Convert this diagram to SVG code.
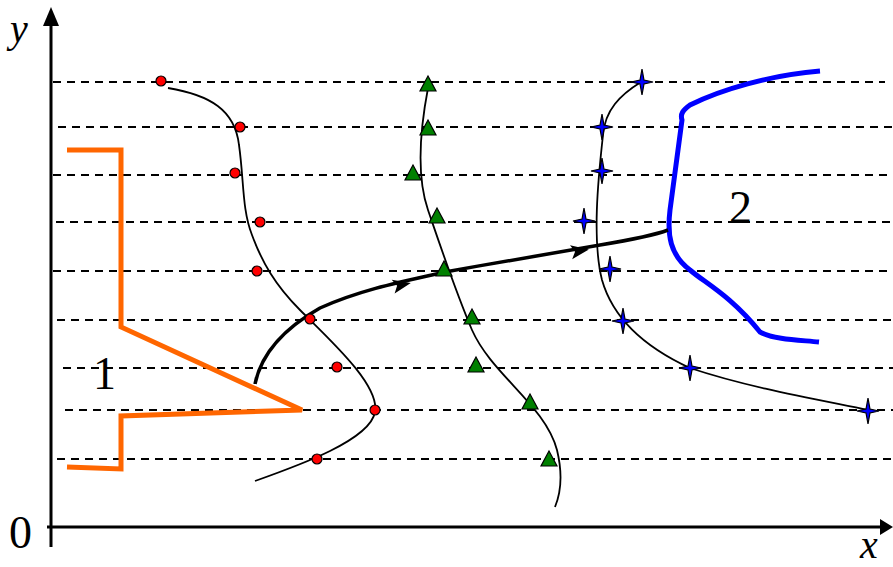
<svg xmlns="http://www.w3.org/2000/svg" width="893" height="567" viewBox="0 0 893 567">
<style>
.dash{stroke:#000;stroke-width:2;stroke-dasharray:8 6;fill:none}
.axis{stroke:#000;stroke-width:3;fill:none}
.thin{stroke:#000;stroke-width:1.8;fill:none}
.lbl{font-family:"Liberation Serif",serif;fill:#000}
</style>
<defs>
<circle id="dot" r="5" fill="#ff0000" stroke="#000" stroke-width="1.2"/>
<polygon id="tri" points="0,-9 8,6 -8,6" fill="#008000" stroke="#000" stroke-width="1.2"/>
<polygon id="star" points="0,-13 2,-2 11,0 2,2 0,13 -2,2 -11,0 -2,-2" fill="#0000ff" stroke="#000" stroke-width="1.2"/>
<polygon id="ah" points="10,0 -8,-7 -4,0 -8,7" fill="#000"/>
</defs>
<rect width="893" height="567" fill="#fff"/>
<g id="gridlines">
<line class="dash" x1="53" y1="82" x2="885" y2="82"/>
<line class="dash" x1="58" y1="127" x2="893" y2="127"/>
<line class="dash" x1="53" y1="175" x2="893" y2="175"/>
<line class="dash" x1="56" y1="222" x2="893" y2="222"/>
<line class="dash" x1="53" y1="271" x2="893" y2="271"/>
<line class="dash" x1="57" y1="320" x2="893" y2="320"/>
<line class="dash" x1="63" y1="368" x2="893" y2="368"/>
<line class="dash" x1="65" y1="410" x2="893" y2="410"/>
<line class="dash" x1="57" y1="459" x2="893" y2="459"/>
</g>
<g id="axes">
<line class="axis" x1="51" y1="22" x2="51" y2="547"/>
<line class="axis" x1="47" y1="527" x2="882" y2="527"/>
<polygon points="51,7 43,26 59,26" fill="#000"/>
<polygon points="893,527 880,519 880,535" fill="#000"/>
<text class="lbl" x="10" y="42" font-size="40" font-style="italic">y</text>
<text class="lbl" x="9" y="548" font-size="46">0</text>
<text class="lbl" x="860" y="558" font-size="40" font-style="italic">x</text>
</g>
<g id="boundary1">
<polyline points="67,150 121,150 121,327 302,410 121,416 121,469 67,467" fill="none" stroke="#ff6600" stroke-width="5" stroke-linejoin="miter"/>
<text class="lbl" x="93" y="389" font-size="46">1</text>
</g>
<g id="boundary2">
<path d="M820,71 C770,75 720,90 690,105 C683,110 680,114 682,120 L670,210 C667,235 670,255 690,270 C705,283 730,295 760,332 C775,340 800,340 819,342" fill="none" stroke="#0000ff" stroke-width="5"/>
<text class="lbl" x="729" y="223" font-size="46">2</text>
</g>
<g id="connectors">
<path class="thin" d="M168,88 C210,95 235,110 239,145 C244,180 242,210 252,235 C262,262 275,285 300,310 C330,340 380,385 375,412 C370,440 300,465 255,481"/>
<path class="thin" d="M428,88 C420,130 416,175 428,210 C440,245 455,290 472,330 C492,375 545,405 557,450 C563,475 560,495 555,507"/>
<path class="thin" d="M641,82 C620,95 605,110 603,135 C598,180 592,240 602,280 C612,315 640,345 690,368 C750,388 820,400 868,410"/>
<path d="M255,384 C262,350 290,325 320,308 C360,290 400,282 445,272 C500,262 560,252 600,245 C630,240 655,235 668,230" fill="none" stroke="#000" stroke-width="3.5"/>
<use href="#ah" transform="translate(401,285) rotate(-12)"/>
<use href="#ah" transform="translate(579,251) rotate(-9)"/>
</g>
<g id="red-points">
<use href="#dot" x="161" y="81"/>
<use href="#dot" x="240" y="127"/>
<use href="#dot" x="235" y="173"/>
<use href="#dot" x="260" y="222"/>
<use href="#dot" x="257" y="271"/>
<use href="#dot" x="310" y="319"/>
<use href="#dot" x="337" y="367"/>
<use href="#dot" x="375" y="410"/>
<use href="#dot" x="317" y="459"/>
</g>
<g id="green-points">
<use href="#tri" x="428" y="85"/>
<use href="#tri" x="428" y="129"/>
<use href="#tri" x="413" y="174"/>
<use href="#tri" x="437" y="217"/>
<use href="#tri" x="444" y="270"/>
<use href="#tri" x="472" y="318"/>
<use href="#tri" x="476" y="366"/>
<use href="#tri" x="530" y="403"/>
<use href="#tri" x="549" y="460"/>
</g>
<g id="blue-points">
<use href="#star" x="642" y="82"/>
<use href="#star" x="602" y="127"/>
<use href="#star" x="602" y="171"/>
<use href="#star" x="584" y="221"/>
<use href="#star" x="610" y="269"/>
<use href="#star" x="623" y="321"/>
<use href="#star" x="690" y="368"/>
<use href="#star" x="868" y="411"/>
</g>
</svg>
